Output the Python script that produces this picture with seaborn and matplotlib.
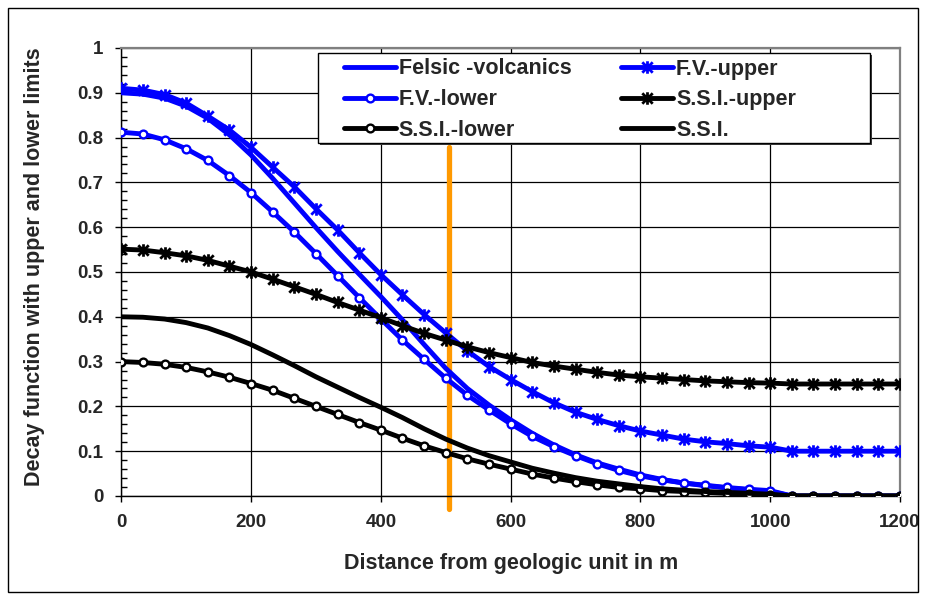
import matplotlib
matplotlib.use("Agg")
import matplotlib.pyplot as plt
import matplotlib.patches as mpatches
from matplotlib.path import Path
from matplotlib.ticker import MultipleLocator, FuncFormatter
from matplotlib.lines import Line2D
import seaborn as sns
import pandas as pd

distance = [0, 33.3, 66.7, 100, 133.3, 166.7, 200, 233.3, 266.7, 300, 333.3, 366.7,
            400, 433.3, 466.7, 500, 533.3, 566.7, 600, 633.3, 666.7, 700, 733.3, 766.7,
            800, 833.3, 866.7, 900, 933.3, 966.7, 1000, 1033.3, 1066.7, 1100, 1133.3,
            1166.7, 1200]

felsic = [0.900, 0.897, 0.888, 0.870, 0.843, 0.806, 0.761, 0.709, 0.654, 0.599, 0.546, 0.495,
          0.445, 0.393, 0.338, 0.285, 0.240, 0.203, 0.170, 0.140, 0.114, 0.092, 0.074, 0.060,
          0.047, 0.037, 0.029, 0.023, 0.018, 0.014, 0.010, 0, 0, 0, 0, 0, 0]
fv_upper = [0.910, 0.906, 0.896, 0.877, 0.848, 0.817, 0.778, 0.734, 0.690, 0.641, 0.594, 0.543,
            0.494, 0.449, 0.405, 0.364, 0.324, 0.289, 0.260, 0.233, 0.208, 0.187, 0.171, 0.157,
            0.145, 0.136, 0.127, 0.121, 0.117, 0.112, 0.109, 0.100, 0.100, 0.100, 0.100, 0.100, 0.100]
fv_lower = [0.812, 0.808, 0.795, 0.775, 0.749, 0.715, 0.677, 0.634, 0.589, 0.541, 0.492, 0.443,
            0.395, 0.348, 0.305, 0.263, 0.225, 0.192, 0.161, 0.133, 0.110, 0.090, 0.072, 0.057,
            0.045, 0.036, 0.029, 0.024, 0.019, 0.015, 0.012, 0, 0, 0, 0, 0, 0]
ssi_upper = [0.551, 0.549, 0.543, 0.536, 0.526, 0.513, 0.500, 0.484, 0.467, 0.450, 0.432, 0.415,
             0.398, 0.380, 0.363, 0.348, 0.333, 0.320, 0.309, 0.298, 0.290, 0.283, 0.276, 0.270,
             0.266, 0.263, 0.260, 0.257, 0.255, 0.253, 0.252, 0.250, 0.250, 0.250, 0.250, 0.250, 0.250]
ssi_lower = [0.300, 0.298, 0.294, 0.287, 0.277, 0.265, 0.251, 0.236, 0.218, 0.200, 0.182, 0.164,
             0.147, 0.129, 0.112, 0.097, 0.083, 0.071, 0.060, 0.049, 0.040, 0.032, 0.025, 0.019,
             0.016, 0.012, 0.010, 0.008, 0.006, 0.004, 0.002, 0, 0, 0, 0, 0, 0]
ssi = [0.400, 0.399, 0.395, 0.387, 0.375, 0.358, 0.338, 0.315, 0.291, 0.266, 0.243, 0.220,
       0.198, 0.175, 0.150, 0.127, 0.107, 0.090, 0.076, 0.062, 0.051, 0.041, 0.033, 0.027,
       0.021, 0.016, 0.013, 0.010, 0.008, 0.006, 0.004, 0, 0, 0, 0, 0, 0]

boundary_distance = 505
boundary_top = 0.78
boundary_bottom = -0.03

labels = ["Felsic -volcanics", "F.V.-upper", "F.V.-lower", "S.S.I.-upper", "S.S.I.-lower", "S.S.I."]
x_ticks = [0, 200, 400, 600, 800, 1000, 1200]

df = pd.DataFrame({"distance": distance, labels[0]: felsic, labels[1]: fv_upper,
                   labels[2]: fv_lower, labels[3]: ssi_upper, labels[4]: ssi_lower,
                   labels[5]: ssi})

sns.set_theme(style="white")
plt.rcParams["font.family"] = ["Liberation Sans", "DejaVu Sans"]
plt.rcParams["font.weight"] = "bold"

fig = plt.figure(figsize=(9.27, 6.06), dpi=100)
ax = fig.add_axes([121.3 / 927, 1 - 496 / 606, (900 - 121.3) / 927, (496 - 48) / 606])

BLUE = "#0000FF"
BLACK = "#000000"
LW = 3.5

# Excel-style "star" marker: an x with a vertical stroke
star = Path([(-1, -1), (1, 1), (-1, 1), (1, -1), (0, -1.2), (0, 1.2)],
            [Path.MOVETO, Path.LINETO, Path.MOVETO, Path.LINETO, Path.MOVETO, Path.LINETO])

styles = {
    labels[0]: dict(color=BLUE, marker=None),
    labels[1]: dict(color=BLUE, marker=star, markersize=9, markeredgewidth=2.0,
                    markeredgecolor=BLUE, markerfacecolor="none"),
    labels[2]: dict(color=BLUE, marker="o", markersize=5.6, markerfacecolor="white",
                    markeredgecolor=BLUE, markeredgewidth=1.7),
    labels[3]: dict(color=BLACK, marker=star, markersize=9, markeredgewidth=2.0,
                    markeredgecolor=BLACK, markerfacecolor="none"),
    labels[4]: dict(color=BLACK, marker="o", markersize=5.6, markerfacecolor="white",
                    markeredgecolor=BLACK, markeredgewidth=1.7),
    labels[5]: dict(color=BLACK, marker=None),
}

ax.axvline(boundary_distance, ymin=boundary_bottom, ymax=boundary_top, color="#FF9900",
           lw=3.8, clip_on=False, zorder=1.5)

for lab in labels:
    st = dict(styles[lab])
    sns.lineplot(data=df, x="distance", y=lab, ax=ax, lw=LW, legend=False, zorder=3, **st)

ax.set_xlim(0, 1200)
ax.set_ylim(0, 1)
ax.set_xticks(x_ticks)
ax.yaxis.set_major_locator(MultipleLocator(0.1))
ax.yaxis.set_minor_locator(MultipleLocator(0.02))
ax.yaxis.set_major_formatter(FuncFormatter(lambda v, p: "%g" % round(v, 2)))
ax.grid(True, which="major", color="#000000", lw=0.9)
ax.set_axisbelow(True)

for s in ["top", "right"]:
    ax.spines[s].set_color("#808080")
    ax.spines[s].set_linewidth(1.6)
for s in ["left", "bottom"]:
    ax.spines[s].set_color("#000000")
    ax.spines[s].set_linewidth(1.0)

ax.tick_params(axis="both", which="major", direction="out", length=4, width=1,
               color="black", labelsize=13.5, pad=9, left=True, bottom=True)
ax.tick_params(axis="y", which="minor", direction="in", length=4, width=1,
               color="black", left=True)
for t in ax.get_xticklabels() + ax.get_yticklabels():
    t.set_fontweight("bold")

ax.set_xlabel("Distance from geologic unit in m", fontsize=15.5, fontweight="bold")
ax.set_ylabel("Decay function with upper and lower limits", fontsize=15.5, fontweight="bold")
ax.xaxis.set_label_coords(0.5, -0.128)
ax.yaxis.set_label_coords(-0.098, 0.512)

# legend frame with shadow
lx0, lx1 = (318 - 121.3) / 778.7, (870 - 121.3) / 778.7
ly0, ly1 = (496 - 142.7) / 448, (496 - 52.5) / 448
ax.add_patch(mpatches.Rectangle((lx0 + 2 / 778.7, ly0 - 2 / 448), lx1 - lx0, ly1 - ly0,
                                transform=ax.transAxes, facecolor="#404040", edgecolor="none",
                                zorder=9, clip_on=False))
ax.add_patch(mpatches.Rectangle((lx0, ly0), lx1 - lx0, ly1 - ly0, transform=ax.transAxes,
                                facecolor="white", edgecolor="black", lw=1.0, zorder=10,
                                clip_on=False))

def handle(lab):
    st = dict(styles[lab])
    st.pop("color")
    return Line2D([], [], color=styles[lab]["color"], lw=LW, **st)

order = [labels[0], labels[2], labels[4], labels[1], labels[3], labels[5]]
leg = ax.legend([handle(l) for l in order], order, ncol=2, loc="upper left",
                bbox_to_anchor=((344 - 121.3) / 778.7, (496 - 58.5) / 448),
                frameon=False, borderpad=0, borderaxespad=0,
                handlelength=2.4, handletextpad=0.15, columnspacing=2.3,
                labelspacing=0.45, prop={"weight": "bold", "size": 15.5})
leg.set_zorder(11)

fig.add_artist(mpatches.Rectangle((8 / 927, 1 - 592 / 606), (918 - 8) / 927, (592 - 8) / 606,
                                  transform=fig.transFigure, fill=False, ec="black", lw=1.0))

fig.savefig("out.png", dpi=100)
